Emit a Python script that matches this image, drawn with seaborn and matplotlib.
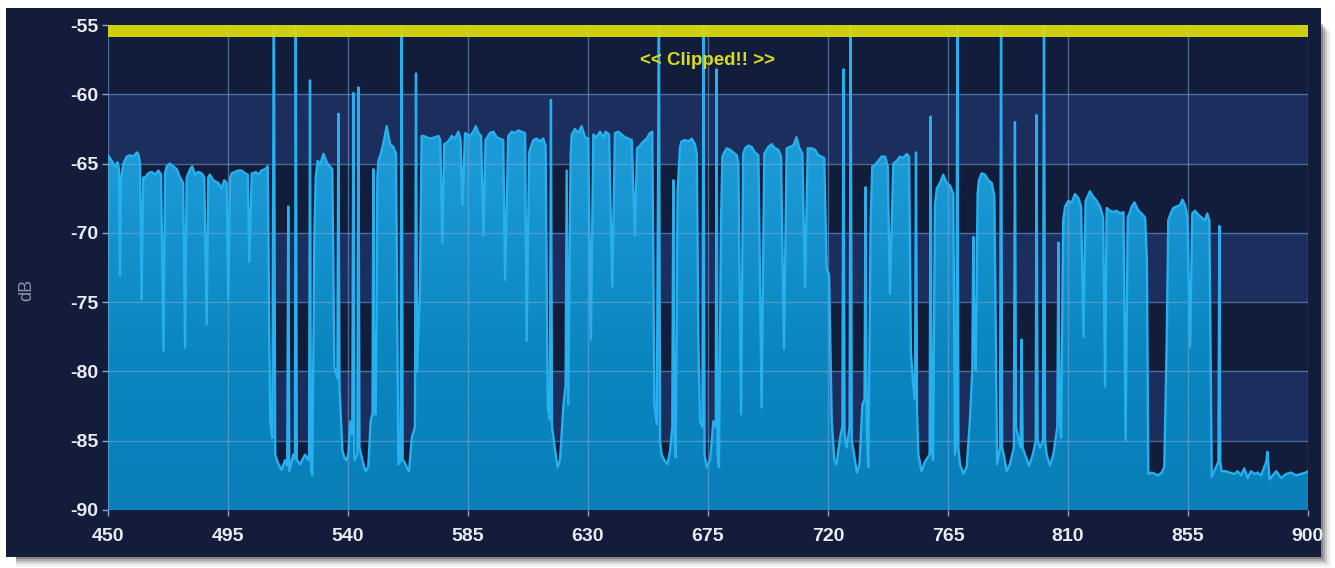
import numpy as np
import matplotlib
matplotlib.use("Agg")
import matplotlib.pyplot as plt
import seaborn as sns
from matplotlib.patches import Polygon, Rectangle
from matplotlib.colors import LinearSegmentedColormap

# Spectrum sweep, 450-900 MHz. Readings above the -55 dB ceiling are stored as -53 dB.
freq_mhz = [
    450.0, 451.4, 452.6, 453.6, 454.1, 454.5, 454.9, 455.8, 457.0, 458.2,
    459.5, 460.8, 461.4, 462.0, 462.6, 463.2, 463.9, 465.1, 466.4, 467.6,
    468.9, 469.9, 470.8, 471.4, 472.0, 473.2, 474.5, 475.8, 477.0, 478.2,
    478.9, 479.5, 480.8, 481.6, 482.6, 483.9, 485.1, 486.1, 487.0, 487.6,
    488.2, 489.5, 491.4, 492.6, 493.6, 494.5, 495.1, 495.8, 496.4, 497.6,
    498.9, 500.1, 501.4, 502.4, 503.0, 503.9, 504.5, 505.4, 506.4, 507.6,
    508.9, 509.9, 510.8, 511.6, 512.2, 512.7, 513.9, 515.1, 516.4, 517.2,
    517.6, 518.0, 519.5, 520.1, 520.4, 520.8, 522.0, 523.9, 525.1, 525.4,
    525.75, 526.1, 526.6, 527.4, 527.9, 528.6, 529.5, 530.8, 532.0, 533.2,
    534.1, 534.9, 536.0, 536.4, 536.8, 537.9, 538.6, 539.4, 540.1, 540.9,
    541.6, 542.0, 542.4, 543.5, 543.9, 544.3, 545.8, 546.6, 547.6, 548.5,
    549.2, 549.5, 549.8, 550.4, 551.0, 551.4, 552.0, 553.2, 554.5, 555.8,
    557.0, 558.0, 558.9, 559.7, 560.1, 560.5, 561.1, 562.0, 562.9, 563.9,
    565.1, 565.5, 565.9, 567.0, 567.6, 568.2, 569.5, 570.8, 572.6, 573.9,
    574.6, 575.4, 576.1, 577.6, 578.9, 580.1, 581.4, 582.2, 582.9, 583.9,
    585.8, 587.0, 587.9, 588.9, 589.9, 590.8, 591.6, 593.2, 594.5, 595.8,
    597.0, 598.2, 598.9, 600.1, 601.4, 602.6, 603.9, 605.1, 606.4, 607.0,
    607.9, 608.2, 609.5, 610.8, 612.0, 613.2, 614.1, 614.9, 615.7, 616.1,
    616.5, 617.9, 618.6, 619.5, 620.8, 621.6, 622.0, 622.6, 623.5, 623.9,
    625.1, 626.4, 627.6, 628.9, 630.1, 631.1, 632.0, 633.2, 634.5, 635.8,
    636.6, 637.9, 639.1, 640.1, 641.4, 642.6, 643.9, 645.1, 646.4, 647.6,
    648.4, 649.5, 650.8, 652.0, 653.2, 654.1, 654.9, 655.8, 656.6, 657.0,
    657.6, 658.6, 659.8, 660.8, 661.6, 662.0, 662.4, 662.9, 663.6, 664.5,
    665.1, 666.4, 667.6, 668.9, 670.1, 670.8, 671.4, 672.0, 672.9, 673.3,
    673.7, 674.5, 675.8, 677.0, 677.9, 678.2, 678.6, 679.1, 679.9, 680.4,
    681.1, 682.0, 683.2, 684.5, 685.8, 686.4, 687.4, 688.2, 688.9, 690.1,
    691.4, 692.6, 693.9, 695.1, 696.1, 697.6, 698.9, 700.1, 701.4, 702.4,
    703.5, 704.5, 705.8, 707.0, 708.2, 709.1, 710.4, 711.4, 712.4, 713.9,
    715.1, 716.4, 717.6, 718.6, 719.5, 720.4, 721.4, 722.4, 723.2, 724.5,
    725.4, 725.8, 726.2, 727.0, 728.1, 728.5, 728.9, 729.8, 730.8, 731.8,
    732.9, 733.7, 734.1, 734.5, 735.1, 736.0, 736.6, 737.6, 738.9, 740.1,
    741.4, 742.4, 743.2, 744.5, 745.8, 747.0, 748.2, 749.5, 750.4, 751.1,
    752.0, 752.6, 753.0, 753.4, 753.9, 755.1, 756.4, 758.1, 758.5, 758.9,
    759.4, 760.1, 760.8, 762.0, 763.2, 764.5, 765.8, 767.0, 767.6, 768.1,
    768.5, 768.9, 769.5, 770.8, 772.0, 773.2, 774.1, 774.5, 774.9, 775.4,
    776.1, 776.6, 777.6, 778.9, 780.1, 781.4, 782.4, 783.4, 784.5, 784.9,
    785.3, 785.9, 787.0, 788.2, 789.7, 790.1, 790.5, 791.4, 792.2, 792.6,
    793.0, 793.9, 795.4, 796.8, 797.9, 798.2, 798.6, 799.5, 800.6, 801.0,
    801.4, 802.0, 803.2, 804.5, 806.0, 806.4, 806.8, 807.4, 808.2, 808.9,
    810.1, 811.4, 812.6, 813.9, 814.9, 815.8, 816.6, 818.2, 819.5, 820.8,
    822.0, 823.2, 823.9, 824.5, 825.8, 827.0, 828.2, 829.5, 830.8, 831.6,
    832.4, 833.2, 833.9, 834.9, 836.4, 837.6, 838.9, 839.6, 840.1, 841.4,
    842.6, 843.9, 845.1, 846.1, 847.0, 847.6, 848.5, 849.5, 850.8, 852.0,
    852.9, 853.9, 854.8, 855.8, 856.6, 857.6, 858.9, 860.1, 861.4, 862.2,
    863.0, 863.9, 865.1, 866.4, 866.75, 867.1, 867.6, 869.1, 870.6, 872.4,
    873.6, 874.9, 876.1, 877.4, 878.6, 879.9, 881.1, 882.4, 883.6, 884.4,
    884.75, 885.1, 885.6, 886.8, 888.1, 889.9, 891.8, 893.6, 895.5, 897.4,
    899.2, 900.0,
]

level_db = [
    -64.4, -64.8, -65.2, -64.9, -65.4, -73.1, -66.0, -65.0, -64.5, -64.4,
    -64.5, -64.2, -64.3, -65.0, -74.8, -66.0, -66.0, -65.7, -65.6, -65.8,
    -65.5, -65.8, -78.5, -65.7, -65.2, -65.0, -65.2, -65.4, -66.0, -66.4,
    -78.3, -66.0, -65.4, -65.2, -65.8, -65.6, -65.7, -66.0, -76.6, -66.0,
    -65.8, -66.2, -66.4, -66.8, -66.2, -66.4, -74.8, -66.0, -65.7, -65.6,
    -65.5, -65.5, -65.7, -65.8, -72.1, -65.7, -65.7, -65.6, -65.8, -65.5,
    -65.4, -65.2, -83.6, -84.8, -53.0, -86.0, -86.7, -87.1, -86.4, -86.8,
    -68.1, -87.2, -86.0, -86.3, -53.0, -86.4, -86.7, -86.0, -86.4, -86.0,
    -59.0, -87.0, -87.5, -70.0, -66.0, -64.8, -65.1, -64.3, -64.9, -65.2,
    -65.4, -79.7, -80.5, -61.4, -81.1, -85.7, -86.2, -86.4, -86.0, -83.6,
    -84.5, -59.9, -86.4, -86.0, -59.5, -85.5, -86.7, -87.2, -86.9, -83.6,
    -83.0, -65.4, -83.1, -83.1, -66.0, -64.8, -64.5, -63.6, -62.3, -63.6,
    -63.8, -64.3, -86.7, -86.5, -53.0, -86.4, -86.5, -86.9, -87.2, -84.8,
    -84.0, -58.5, -80.0, -73.9, -63.0, -63.0, -63.1, -63.2, -63.1, -63.0,
    -63.3, -70.7, -63.6, -63.4, -63.0, -63.2, -62.7, -63.3, -68.0, -62.8,
    -63.0, -62.7, -62.3, -62.8, -63.0, -70.2, -63.3, -62.8, -62.7, -63.1,
    -63.2, -63.3, -73.4, -63.0, -62.7, -62.8, -62.6, -62.7, -62.8, -77.8,
    -64.3, -64.0, -63.3, -63.2, -63.4, -63.2, -63.7, -82.6, -83.5, -60.4,
    -84.0, -86.0, -86.9, -86.4, -82.4, -81.0, -65.5, -82.4, -64.3, -62.9,
    -62.5, -62.8, -62.3, -63.1, -63.2, -77.7, -62.9, -63.1, -62.7, -63.1,
    -62.7, -62.9, -73.9, -62.8, -62.7, -62.9, -63.1, -63.2, -63.3, -70.2,
    -63.9, -63.7, -63.4, -63.2, -62.8, -62.7, -82.4, -83.8, -53.0, -85.0,
    -86.0, -86.4, -86.7, -85.7, -84.0, -66.2, -85.0, -86.2, -67.0, -63.8,
    -63.4, -63.3, -63.4, -63.2, -63.6, -64.3, -77.8, -83.6, -84.0, -53.0,
    -86.0, -86.9, -86.4, -83.6, -84.0, -58.2, -86.0, -86.9, -69.0, -64.5,
    -64.2, -63.9, -64.0, -64.2, -64.4, -65.0, -83.1, -64.3, -63.9, -63.7,
    -63.8, -64.2, -64.4, -82.6, -64.3, -63.8, -63.6, -63.9, -64.0, -64.5,
    -78.4, -63.9, -63.8, -63.7, -63.1, -63.8, -64.3, -73.9, -63.9, -63.9,
    -64.0, -64.4, -64.5, -64.6, -72.6, -73.0, -83.6, -86.4, -86.7, -84.8,
    -84.0, -58.2, -84.5, -85.5, -84.0, -53.0, -85.0, -86.0, -87.3, -86.7,
    -82.4, -82.0, -66.7, -84.0, -86.9, -69.1, -65.2, -65.1, -64.8, -64.5,
    -64.5, -65.2, -74.4, -65.0, -64.8, -64.5, -64.6, -64.3, -64.5, -78.7,
    -81.1, -82.0, -64.2, -83.0, -86.0, -87.2, -86.5, -86.0, -61.6, -85.5,
    -86.4, -68.0, -66.8, -66.4, -65.8, -66.4, -66.6, -67.2, -86.0, -85.0,
    -53.0, -85.5, -86.7, -87.4, -86.9, -83.6, -80.0, -70.3, -78.0, -79.9,
    -67.2, -66.2, -65.7, -65.8, -66.2, -66.4, -67.4, -86.7, -85.5, -53.0,
    -85.5, -86.0, -87.2, -86.7, -85.5, -62.0, -84.0, -84.8, -85.5, -77.7,
    -85.5, -86.0, -86.8, -86.0, -85.0, -61.5, -85.0, -85.5, -85.0, -53.0,
    -85.0, -86.0, -86.8, -86.0, -84.0, -70.7, -83.0, -84.8, -69.1, -68.1,
    -67.7, -67.8, -67.2, -67.5, -68.1, -77.5, -67.7, -67.0, -67.4, -67.7,
    -68.1, -68.9, -81.1, -68.2, -68.4, -68.5, -68.4, -68.6, -68.5, -85.0,
    -68.9, -68.5, -68.1, -67.8, -68.4, -68.6, -68.9, -72.0, -87.4, -87.3,
    -87.4, -87.5, -87.3, -86.9, -78.0, -69.1, -68.6, -68.2, -68.1, -68.0,
    -67.6, -68.0, -68.9, -78.2, -68.6, -68.4, -68.7, -68.9, -69.1, -68.6,
    -69.1, -87.6, -87.1, -86.5, -69.5, -86.5, -87.2, -87.2, -87.3, -87.4,
    -87.2, -87.5, -87.0, -87.7, -87.2, -87.4, -87.3, -87.5, -86.9, -86.5,
    -85.8, -86.6, -87.8, -87.5, -87.2, -87.7, -87.4, -87.3, -87.5, -87.4,
    -87.3, -87.2,
]

x_ticks = [450, 495, 540, 585, 630, 675, 720, 765, 810, 855, 900]
y_ticks = [-90, -85, -80, -75, -70, -65, -60, -55]
y_label = "dB"
clip_label = "<< Clipped!! >>"

FLOOR, CEIL = -90, -55
PANEL = "#131d3b"
BAND_DARK = "#121d3c"
BAND_LIGHT = "#1b2e5d"
GRID = "#7aa8d4"
TRACE = "#27b0ee"
YELLOW = "#d9d90f"

sns.set_theme(style="dark")
plt.rcParams["font.family"] = ["Liberation Sans", "DejaVu Sans"]

W, H = 1335, 568
fig = plt.figure(figsize=(W / 100, H / 100), dpi=100)
fig.patch.set_facecolor("white")

# Panel with a soft drop shadow, kept behind the axes
px0, py0, px1, py1 = 6, 11, 1321, 560
for k, a in enumerate([0.30, 0.22, 0.15, 0.09, 0.05]):
    off = 2 + k * 2
    fig.patches.append(Rectangle(((px0 + 10) / W, (py0 - off) / H),
                                 (px1 - px0 - 10 + off) / W, (py1 - py0 - 14) / H,
                                 transform=fig.transFigure, facecolor="#3a3a3a",
                                 edgecolor="none", alpha=a, zorder=-10))
fig.patches.append(Rectangle((px0 / W, py0 / H), (px1 - px0) / W, (py1 - py0) / H,
                             transform=fig.transFigure, facecolor=PANEL,
                             edgecolor="none", zorder=-5))

ax = fig.add_axes([108 / W, 58 / H, 1200 / W, 485 / H])
ax.set_facecolor(BAND_DARK)
for spine in ax.spines.values():
    spine.set_visible(False)

# Alternating 5 dB background bands
for i, lo in enumerate(range(FLOOR, CEIL, 5)):
    ax.axhspan(lo, lo + 5, color=BAND_DARK if i % 2 == 0 else BAND_LIGHT,
               lw=0, zorder=0)

f = np.asarray(freq_mhz)
v = np.asarray(level_db)

# Gradient area under the trace
poly = Polygon(np.column_stack([np.r_[f[0], f, f[-1]], np.r_[FLOOR, v, FLOOR]]),
               closed=True, facecolor="none", edgecolor="none")
ax.add_patch(poly)
cmap = LinearSegmentedColormap.from_list("fill", ["#0a7fb8", "#0b86c1", "#1a98d3", "#24a2dc"])
grad = np.linspace(0, 1, 256).reshape(-1, 1)
im = ax.imshow(grad, extent=[450, 900, FLOOR, CEIL], origin="lower",
               aspect="auto", cmap=cmap, zorder=2, interpolation="bicubic")
im.set_clip_path(poly)

sns.lineplot(x=f, y=v, ax=ax, color=TRACE, linewidth=1.7, zorder=3,
             estimator=None, sort=False)

# Clip indicator strip
ax.axhspan(-55.9, CEIL, color=YELLOW, alpha=0.95, lw=0, zorder=4)
ax.text(675, -57.55, clip_label, color="#dada1c", fontsize=13.5, fontweight="bold",
        ha="center", va="center", zorder=5)

ax.set_xlim(450, 900)
ax.set_ylim(FLOOR, CEIL)
ax.set_xticks(x_ticks)
ax.set_yticks(y_ticks)
ax.set_xticklabels([str(t) for t in x_ticks], fontweight="bold")
ax.set_yticklabels([str(t) for t in y_ticks], fontweight="bold")
ax.set_axisbelow(False)
ax.grid(True, color=GRID, alpha=0.55, linewidth=1.0)
ax.tick_params(axis="both", colors=GRID, labelcolor="#e8ecf2", labelsize=14,
               length=4, width=1, direction="out")
ax.tick_params(axis="x", pad=9, bottom=True)
ax.tick_params(axis="y", pad=3, left=True)
ax.set_xlabel("")
ax.set_ylabel("")

fig.text(27 / W, (H - 290) / H, y_label, rotation=90, color="#8a93a6",
         fontsize=13, ha="center", va="center")

fig.savefig("out.png", dpi=100, facecolor=fig.get_facecolor())
